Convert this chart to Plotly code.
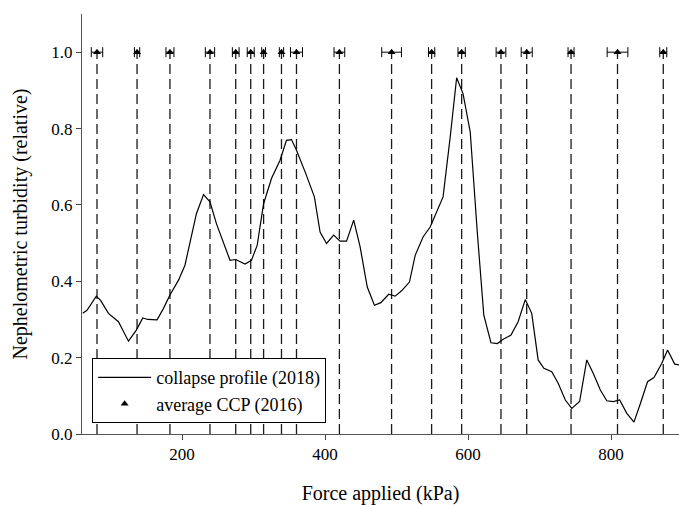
import plotly.graph_objects as go

# Collapse profile (2018)
force_kpa = [61, 67, 80, 86, 97, 111, 125, 136, 145, 152, 165, 174, 183, 195, 204,
             211, 220, 230, 239, 248, 258, 267, 275, 288, 297, 305, 314, 325, 337, 346,
             353, 360, 373, 385, 393, 402, 412, 421, 430, 440, 449, 459, 469, 478, 489,
             498, 507, 518, 526, 537, 547, 565, 575, 584, 593, 603, 613, 622, 632, 641,
             649, 660, 670, 680, 689, 698, 706, 717, 726, 736, 745, 756, 766, 775, 785,
             794, 803, 812, 822, 832, 841, 851, 860, 871, 879, 889, 895]
turbidity = [0.316, 0.324, 0.361, 0.350, 0.316, 0.294, 0.243, 0.272, 0.304, 0.300,
             0.299, 0.329, 0.364, 0.403, 0.442, 0.499, 0.577, 0.627, 0.608, 0.551,
             0.499, 0.455, 0.457, 0.445, 0.455, 0.494, 0.603, 0.669, 0.717, 0.769,
             0.771, 0.743, 0.682, 0.621, 0.529, 0.499, 0.521, 0.505, 0.505, 0.560,
             0.490, 0.385, 0.337, 0.344, 0.366, 0.361, 0.375, 0.398, 0.468, 0.516,
             0.542, 0.621, 0.778, 0.933, 0.891, 0.791, 0.525, 0.311, 0.239, 0.237,
             0.248, 0.259, 0.294, 0.352, 0.316, 0.194, 0.172, 0.163, 0.133, 0.089,
             0.067, 0.085, 0.194, 0.159, 0.115, 0.087, 0.085, 0.089, 0.054, 0.031,
             0.080, 0.137, 0.148, 0.185, 0.220, 0.183, 0.181]

# Average CCP (2016)
ccp_force = [81, 137, 183, 239, 275, 296, 314, 339, 360, 420, 493, 549, 591, 646,
             682, 744, 809, 873]
ccp_err = [8, 3.7, 5.6, 6.5, 4.7, 4.9, 2.6, 3, 8.4, 7.5, 13.8, 4.4, 5.1, 6.8, 7.7,
           4.2, 14.5, 4.9]
ccp_level = [1.0] * len(ccp_force)

x_ticks = [200, 400, 600, 800]
y_ticks = [0.0, 0.2, 0.4, 0.6, 0.8, 1.0]

FONT = "Liberation Serif"

# dashed verticals from each CCP down to zero
vx, vy = [], []
for xv, yv in zip(ccp_force, ccp_level):
    vx += [xv, xv, None]
    vy += [0, yv, None]

fig = go.Figure()
fig.add_trace(go.Scatter(x=vx, y=vy, mode="lines", showlegend=False,
                         line=dict(color="#1a1a1a", width=1.3, dash="10px,5px"),
                         hoverinfo="skip"))
fig.add_trace(go.Scatter(x=force_kpa, y=turbidity, mode="lines",
                         name="collapse profile (2018)",
                         line=dict(color="black", width=1.2)))
fig.add_trace(go.Scatter(x=ccp_force, y=ccp_level, mode="markers",
                         name="average CCP (2016)",
                         marker=dict(symbol="triangle-up", size=7, color="black"),
                         error_x=dict(type="data", array=ccp_err, visible=True,
                                      color="black", thickness=1, width=5)))

fig.update_layout(
    width=679, height=506,
    margin=dict(l=82, r=0, t=14, b=72),
    paper_bgcolor="white", plot_bgcolor="white",
    font=dict(family=FONT, size=17, color="black"),
    legend=dict(x=0.017, y=0.026, xanchor="left", yanchor="bottom",
                bgcolor="white", bordercolor="black", borderwidth=1,
                font=dict(size=18),
                itemwidth=53, tracegroupgap=0),
    xaxis=dict(range=[60, 895], tickvals=x_ticks, ticks="outside", ticklen=5,
               tickcolor="#444", showline=True, linecolor="#555", linewidth=1,
               showgrid=False, zeroline=False,
               title=dict(text="Force applied (kPa)", standoff=22)),
    yaxis=dict(range=[0, 1.1], tickvals=y_ticks, tickformat=".1f", ticks="outside",
               ticklen=5, tickcolor="#444", showline=True, linecolor="#555",
               linewidth=1, showgrid=False, zeroline=False,
               title=dict(text="Nephelometric turbidity (relative)", standoff=18)),
)

fig.write_html("out.html")
